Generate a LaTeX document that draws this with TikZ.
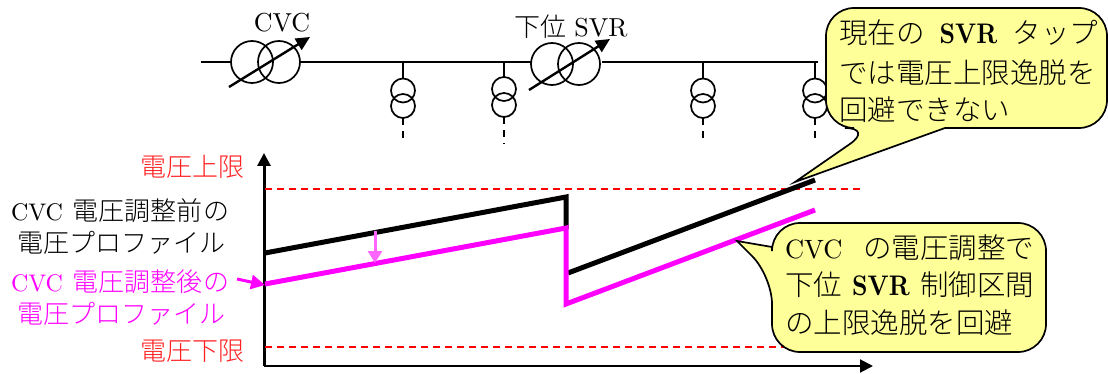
\documentclass[tikz,border=0pt]{standalone}
\usepackage{fontspec}
\usetikzlibrary{arrows.meta}
\newfontfamily\cjk{Noto Sans CJK JP}[UprightFont=* Light]
\font\latL=cmr10 at 24pt
\font\latT=cmr10 at 26pt
\font\latC=cmr10 at 26.5pt
\font\latB=cmbx10 at 27pt
\newcommand{\J}[1]{{\cjk #1}}
\newcommand{\SVRb}{\scalebox{.9}[1.05]{\latB SVR}}
\definecolor{calloutfill}{HTML}{FFFF99}
\definecolor{softpink}{HTML}{FF66FF}
\definecolor{pureMag}{HTML}{FF00FF}
\definecolor{softRed}{HTML}{FF2020}
\tikzset{
  wire/.style={line width=1.7pt,black},
  xfmr/.style={circle,draw=black,line width=1.7pt,minimum size=42pt,inner sep=0pt,outer sep=0pt},
  loadc/.style={circle,draw=black,line width=1.7pt,minimum size=24pt,inner sep=0pt,outer sep=0pt},
  tapdrop/.style={line width=1.7pt,dash pattern=on 7pt off 6pt},
  tap/.style={line width=2.4pt,-{Triangle[length=14pt,width=13pt]}},
  axisY/.style={line width=3pt,-{Triangle[length=13pt,width=13pt]}},
  axisX/.style={line width=2pt,-{Triangle[length=13pt,width=13pt]}},
  limit/.style={red,line width=1.3pt,dash pattern=on 7pt off 5pt},
  blackprof/.style={line width=5pt,black,line join=miter},
  magprof/.style={line width=5pt,pureMag,line join=miter},
  callout/.style={draw=black,line width=1.7pt,fill=calloutfill},
  lab/.style={inner sep=0pt,outer sep=0pt,font=\fontsize{26}{28}\selectfont},
  ctext/.style={inner sep=0pt,outer sep=0pt,anchor=west,font=\fontsize{28.5}{30}\selectfont},
}
\begin{document}
\begin{tikzpicture}[x=1pt,y=-1pt]
\useasboundingbox (0,0) rectangle (1108,374);
% circuit
\node[xfmr] (cvcA) at (252,62) {};
\node[xfmr] (cvcB) at (279,62) {};
\node[xfmr] (svrA) at (552,64) {};
\node[xfmr] (svrB) at (579,64) {};
\coordinate (busL) at (201,62);
\coordinate (busR) at (818,62);
\draw[wire] (busL) -- (cvcA.west);
\draw[wire] (cvcB.east) -- (svrA.west |- cvcB.east);
\draw[wire] (svrB.east |- busR) ++(2,0) coordinate (svrOut) -- (busR);
\coordinate (cvcTail) at (229,87); \coordinate (cvcHead) at (310,37);
\coordinate (svrTail) at (529,90); \coordinate (svrHead) at (610,39);
\draw[tap] (cvcTail) -- (cvcHead);
\draw[tap] (svrTail) -- (svrHead);
\node[lab] (cvcLabel) at (282,23) {\latT CVC};
\node[lab] (svrLabel) at (571,27) {\J{下位} \latT SVR};
\foreach \n/\x/\ya/\yb in {1/403/90.5/106,2/504/89/105,3/703/90.5/106,4/815/90.5/106}{
  \node[loadc] (l\n a) at (\x,\ya) {};
  \node[loadc] (l\n b) at (\x,\yb) {};
  \coordinate (t\n) at (\x,62);
  \coordinate (e\n) at (\x,144);
  \draw[wire] (t\n) -- (l\n a.north);
  \draw[tapdrop] (l\n b.south) -- (e\n);
}
% axes
\coordinate (org) at (264,366);
\coordinate (yTop) at (264,153);
\coordinate (xEnd) at (873,366);
\draw[axisY] (org) -- (yTop);
\draw[axisX] (org) -- (xEnd);
% limits
\coordinate (upL) at (265,189); \coordinate (upR) at (860,189);
\coordinate (loL) at (265,347); \coordinate (loR) at (790,347);
\draw[limit] (upL) -- (upR);
\draw[limit] (loL) -- (loR);
% callout 1
\coordinate (tipA) at (795,182);
\draw[callout] (873,128) -- (tipA) -- (945,128) [rounded corners=28pt] -- (1107,128) -- (1107,8) -- (826,8) -- (826,128) -- cycle;
% profiles
\coordinate (b0) at (265,253); \coordinate (b1) at (566,197); \coordinate (b2) at (566,229);
\coordinate (b3) at (568,273); \coordinate (b4) at (815,180);
\coordinate (m0) at (265,284); \coordinate (m1) at (566,228); \coordinate (m2) at (566,304); \coordinate (m3) at (815,210);
\draw[blackprof] (b0) -- (b1) -- (b2);
\draw[blackprof] (b3) -- (b4);
\draw[magprof] (m0) -- (m1) -- (m2) -- (m3);
\coordinate (pa) at (375,231); \coordinate (pb) at (375,263);
\draw[softpink,line width=3pt,-{Triangle[length=12pt,width=14pt]}] (pa) -- (pb);
\coordinate (qa) at (237,279); \coordinate (qb) at (265,285);
\draw[pureMag,line width=3pt,-{Triangle[length=14pt,width=14pt]}] (qa) -- (qb);
% callout 2
\coordinate (tipB) at (737,241);
\draw[callout] (772,276) -- (tipB) -- (772,247) [rounded corners=28pt] -- (772,223) -- (1046,223) -- (1046,352) -- (772,352) -- cycle;
% callout text
\node[ctext] (ca1) at (839,33) {\makebox[259pt][s]{\J{現在の}\hfill\SVRb\hfill\J{タップ}}};
\node[ctext] (ca2) at (839,73) {\J{では電圧上限逸脱を}};
\node[ctext] (ca3) at (839,110) {\J{回避できない}};
\node[ctext] (cb1) at (785,248) {\makebox[249pt][s]{\latC CVC\hfill\J{の電圧調整で}}};
\node[ctext] (cb2) at (785,285) {\makebox[249pt][s]{\J{下位}\hfill\SVRb\hfill\J{制御区間}}};
\node[ctext] (cb3) at (785,323) {\J{の上限逸脱を回避}};
% left labels
\node[lab,softRed,anchor=east] (up) at (244,167) {\J{電圧上限}};
\node[lab,softRed,anchor=east] (lo) at (244,351) {\J{電圧下限}};
\node[lab,anchor=west] (k1) at (11,211) {\makebox[218pt][s]{\latL CVC\hfill\J{電圧調整前の}}};
\node[lab,anchor=west] (k2) at (17,243) {\J{電圧プロファイル}};
\node[lab,pureMag,anchor=west] (n1) at (11,282) {\makebox[218pt][s]{\latL CVC\hfill\J{電圧調整後の}}};
\node[lab,pureMag,anchor=west] (n2) at (17,314) {\J{電圧プロファイル}};
\end{tikzpicture}
\end{document}
